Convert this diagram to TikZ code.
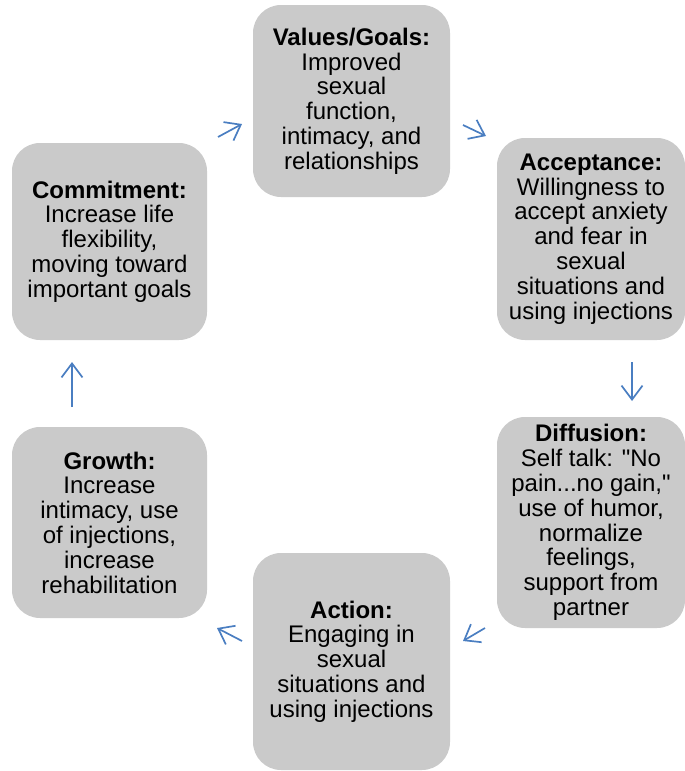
\documentclass[tikz,border=0pt]{standalone}
\usepackage{fontspec}
\setmainfont{Liberation Sans}
\usetikzlibrary{arrows.meta}

\definecolor{boxgray}{RGB}{202,202,202}
\definecolor{arrowblue}{RGB}{74,126,193}

\begin{document}
\begin{tikzpicture}[x=1pt, y=-1pt,
    stage/.style={fill=boxgray, rounded corners=28pt, align=center, inner sep=0pt,
        font=\fontsize{24}{24.8}\selectfont},
    flow/.style={draw=arrowblue, line width=1.7pt,
        -{Straight Barb[length=14pt, width=21pt, line width=1.7pt]}}]
    \useasboundingbox (0,0) rectangle (685,771);

    % the six stages
    \node[stage, minimum width=197pt, minimum height=192pt] (values) at (351.5,101)
        {\textbf{Values/Goals:}\\Improved\\sexual\\function,\\intimacy, and\\relationships};
    \node[stage, minimum width=188pt, minimum height=202pt] (accept) at (591,239)
        {\textbf{Acceptance:}\\Willingness to\\accept anxiety\\and fear in\\sexual\\situations and\\using injections};
    \node[stage, minimum width=188pt, minimum height=211pt] (diffuse) at (591,522.5)
        {\textbf{Diffusion:}\\Self talk: \textquotedbl No\\pain...no gain,\textquotedbl\\use of humor,\\normalize\\feelings,\\support from\\partner};
    \node[stage, minimum width=197pt, minimum height=217pt] (action) at (351.5,661.5)
        {\textbf{Action:}\\Engaging in\\sexual\\situations and\\using injections};
    \node[stage, minimum width=195pt, minimum height=191pt] (growth) at (109.5,522.5)
        {\textbf{Growth:}\\Increase\\intimacy, use\\of injections,\\increase\\rehabilitation};
    \node[stage, minimum width=195pt, minimum height=197pt] (commit) at (109.5,241.5)
        {\textbf{Commitment:}\\Increase life\\flexibility,\\moving toward\\important goals};

    % arrow ends in the gaps between stages
    \coordinate (commit-out) at (218,137);   \coordinate (values-in) at (242,124);
    \coordinate (values-out) at (463,125);   \coordinate (accept-in) at (486,136);
    \coordinate (accept-out) at (632,362);   \coordinate (diffuse-in) at (632,401);
    \coordinate (diffuse-out) at (485,628);  \coordinate (action-in) at (463,641);
    \coordinate (action-out) at (242,641);   \coordinate (growth-in) at (217,628);
    \coordinate (growth-out) at (72,407);    \coordinate (commit-in) at (72,362);

    \draw[flow] (commit-out) -- (values-in);
    \draw[flow] (values-out) -- (accept-in);
    \draw[flow] (accept-out) -- (diffuse-in);
    \draw[flow] (diffuse-out) -- (action-in);
    \draw[flow] (action-out) -- (growth-in);
    \draw[flow] (growth-out) -- (commit-in);
\end{tikzpicture}
\end{document}
